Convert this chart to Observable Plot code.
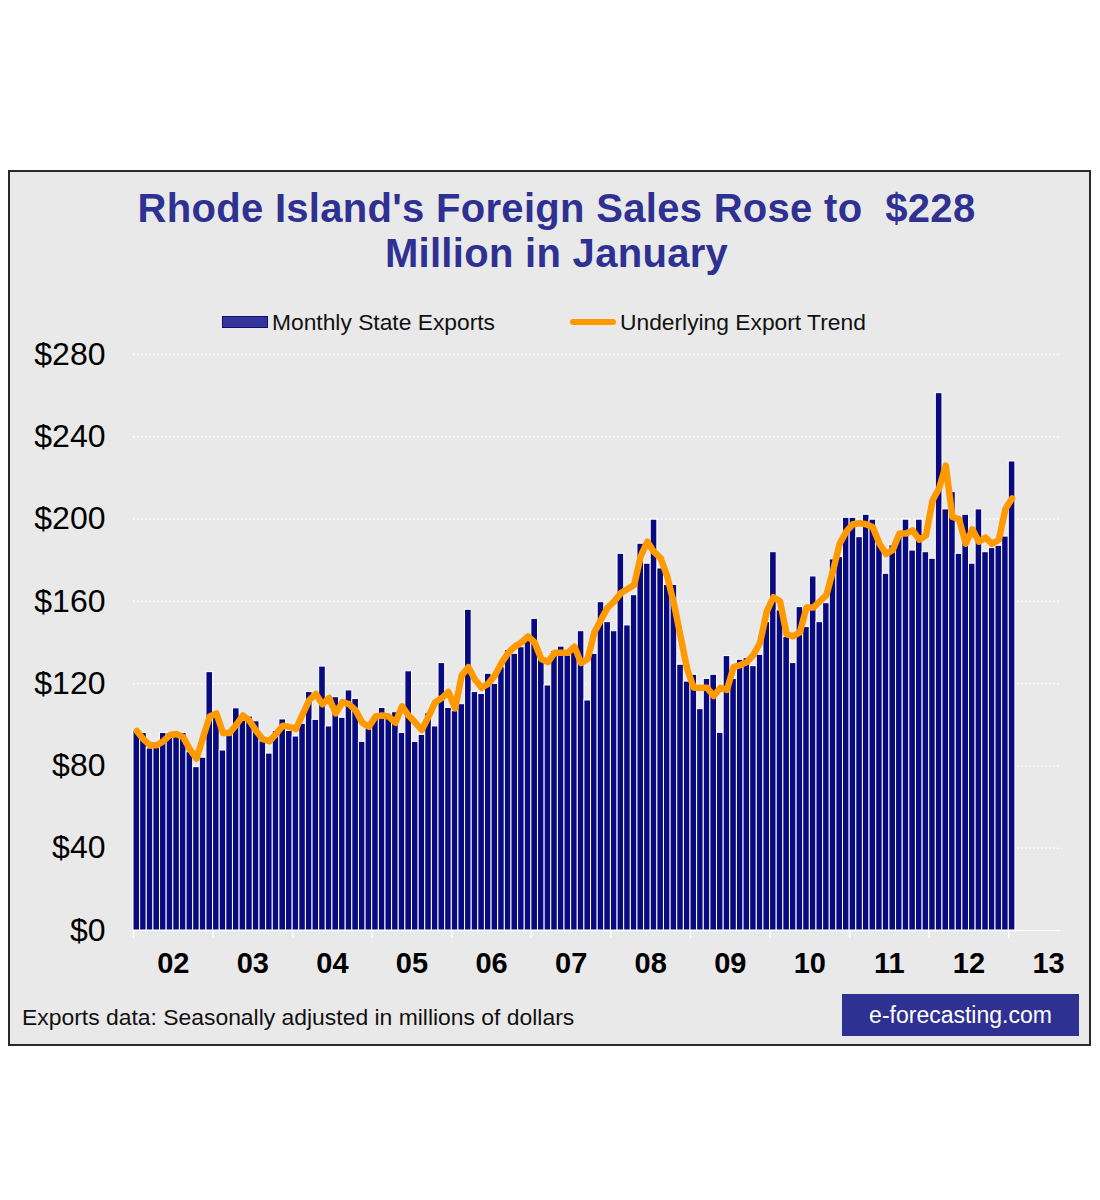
<!DOCTYPE html>
<html>
<head>
<meta charset="utf-8">
<script src="https://cdn.jsdelivr.net/npm/d3@7"></script>
<script src="https://cdn.jsdelivr.net/npm/@observablehq/plot@0.6"></script>
<style>
  body { margin: 0; background: #ffffff; font-family: "Liberation Sans", Arial, sans-serif; }
  #frame { position: absolute; left: 8px; top: 170px; width: 1079px; height: 872px; background: #e9e9e9; border: 2px solid #2a2a2a; }
  #title { position: absolute; left: 13px; top: 186px; width: 1087px; text-align: center; font-weight: bold; font-size: 40px; line-height: 45px; letter-spacing: 0.3px; color: #2f3192; }
  .lg { position: absolute; font-size: 22.8px; line-height: 26px; color: #111; white-space: nowrap; }
  #sw1 { position: absolute; left: 222px; top: 316px; width: 44px; height: 10px; background: #333399; border: 1px solid #101070; }
  #sw2 { position: absolute; left: 570px; top: 319px; width: 46px; height: 6px; background: #ff9900; border-radius: 3px; }
  #chart { position: absolute; left: 0; top: 330px; }
  #note { position: absolute; left: 22px; top: 1004px; font-size: 22.9px; line-height: 26px; color: #111; white-space: nowrap; }
  #brand { position: absolute; left: 842px; top: 994px; width: 237px; height: 42px; background: #2e3192; color: #ffffff; font-size: 23px; line-height: 42px; text-align: center; }
</style>
</head>
<body>
<div id="frame"></div>
<div id="title">Rhode Island's Foreign Sales Rose to&nbsp; $228<br>Million in January</div>
<div id="sw1"></div><div class="lg" style="left:272px;top:309px;">Monthly State Exports</div>
<div id="sw2"></div><div class="lg" style="left:620px;top:309px;">Underlying Export Trend</div>
<div id="chart"></div>
<div id="note">Exports data: Seasonally adjusted in millions of dollars</div>
<div id="brand">e-forecasting.com</div>
<script>
// Monthly state exports, Jan 2002 .. Jan 2013 (millions of dollars)
const exportsValues = [
  97, 96, 88.5, 89, 96, 96, 94, 96, 86.7, 79.4, 84, 125.6,
  104, 87.5, 95, 108, 102, 104, 101.7, 92, 86, 97, 102.6, 97,
  94.3, 100.5, 115.9, 102.4, 128.3, 99.2, 113.4, 103.4, 116.7, 112.5, 91.7, 98,
  103.7, 108.2, 103.7, 106.1, 96, 126, 91.7, 95.1, 105.6, 99.2, 130, 108.2,
  106.6, 110, 155.9, 115.9, 115, 124.8, 119.9, 128, 136.4, 134.5, 137.7, 141,
  151.5, 132.9, 119.1, 135.8, 138, 133.7, 137.7, 145.5, 111.8, 134.5, 159.6, 149.9,
  145.5, 183.1, 148.3, 163, 188, 178.3, 199.7, 176, 168, 168, 129.2, 121,
  124.3, 107.6, 122.3, 124.3, 96.1, 133.4, 122.3, 131.6, 132.4, 128.5, 134, 149.9,
  183.9, 155.6, 142.6, 130, 157.2, 147.5, 172.1, 149.9, 159.1, 180.4, 181.5, 200.6,
  200.6, 191.2, 202.1, 199.7, 188.8, 173.4, 187.2, 192, 199.7, 184.7, 199.7, 183.9,
  180.7, 261.2, 204.7, 213.1, 183.1, 202.1, 178.3, 204.7, 183.9, 185.9, 187, 191.5,
  228
];
// Underlying export trend, same months
const trendValues = [
  97, 93, 90, 90, 92, 95, 95.5, 94, 88, 83.5, 94, 104,
  105.5, 96, 96, 100, 104.5, 102, 97, 93, 92, 95.5, 99.5, 99,
  98, 105, 112, 115, 110, 113, 105.5, 111, 110, 107, 101, 99,
  104, 104.5, 104, 101, 109, 104.5, 101, 97.5, 104, 111, 113, 116,
  108, 124, 128, 122, 118, 120, 124, 130, 135, 138, 140, 143,
  140, 132, 130.5, 135, 135, 135, 138, 130, 132, 145, 151, 157,
  160, 164, 166, 168, 182, 189, 184, 181, 172, 159, 143, 127,
  118, 118, 118, 114, 118, 117, 128, 129, 130.5, 134, 140, 155,
  162, 160, 144, 143, 145, 157, 157, 160, 163, 175, 188, 194,
  197.5, 198, 197.5, 196, 188, 183, 185, 193, 193, 194.5, 190, 192,
  209, 215, 226, 201, 200, 188, 195, 189, 191, 188, 190, 205,
  210
];
const yearLabels = ["02", "03", "04", "05", "06", "07", "08", "09", "10", "11", "12", "13"];
const yTicks = [0, 40, 80, 120, 160, 200, 240, 280];

const months = exportsValues.map((v, i) => ({i, v, t: trendValues[i]}));
const yearStarts = yearLabels.map((d, i) => i * 12);
const yearMids = yearLabels.map((d, i) => ({label: d, m: i * 12 + 6}));

const chart = Plot.plot({
  width: 1100,
  height: 660,
  marginLeft: 133,
  marginRight: 40,
  marginTop: 24,
  marginBottom: 60,
  x: {domain: [0, 139.8], axis: null},
  y: {domain: [0, 280], axis: null},
  style: {background: "transparent", overflow: "visible", fontFamily: "'Liberation Sans', Arial, sans-serif"},
  marks: [
    Plot.ruleY(yTicks.filter(d => d > 0), {stroke: "white", strokeWidth: 1.5, strokeDasharray: "1.5,2.5"}),
    Plot.rect(months, {x1: "i", x2: d => d.i + 1, y1: 0, y2: "v", fill: "#0a0a80", stroke: "white", strokeWidth: 1}),
    Plot.line(months, {x: d => d.i + 0.5, y: "t", stroke: "#ff9900", strokeWidth: 6.5, strokeLinejoin: "round", strokeLinecap: "round"}),
    Plot.ruleY([0], {stroke: "white", strokeWidth: 1}),
    Plot.axisX({ticks: yearStarts, tickSize: 8, stroke: "white", strokeWidth: 1.5, tickFormat: () => ""}),
    Plot.text(yTicks, {x: 0, y: d => d, text: d => "$" + d, textAnchor: "end", dx: -28, fontSize: 32, fill: "#000"}),
    Plot.text(yearMids, {x: "m", y: 0, text: "label", dy: 33, fontSize: 29, fontWeight: "bold", fill: "#000",
      fontFamily: "'Liberation Sans Narrow', 'Liberation Sans', Arial, sans-serif"})
  ]
});
document.getElementById("chart").appendChild(chart);
</script>
</body>
</html>
